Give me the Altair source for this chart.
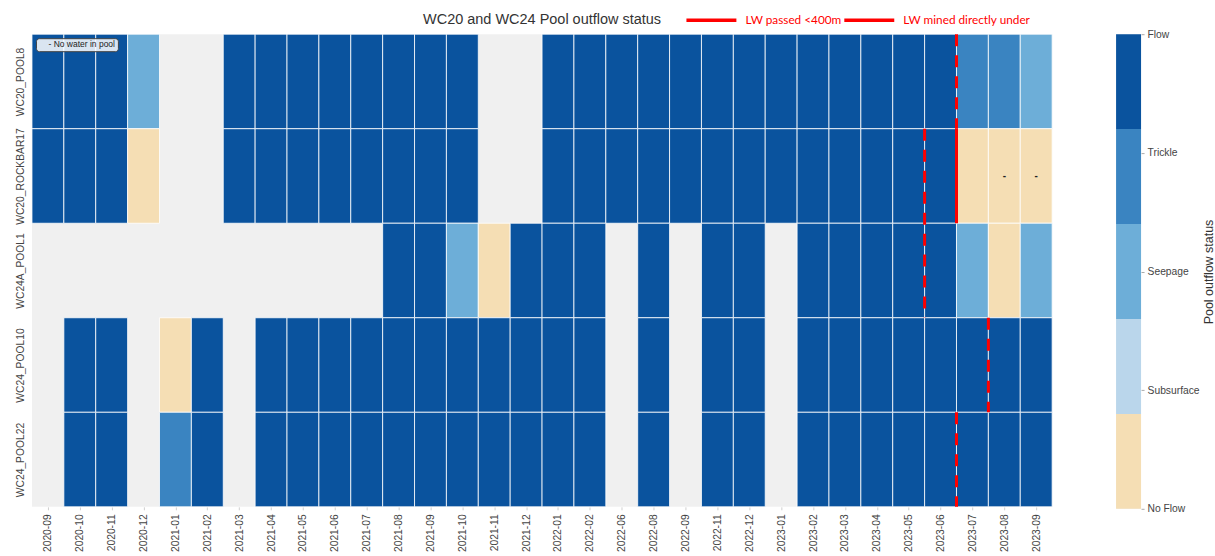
import json

import altair as alt
import pandas as pd

# Survey months shown on the x axis (gaps in 2022 are months that were not surveyed)
months = [
    "2020-09", "2020-10", "2020-11", "2020-12",
    "2021-01", "2021-02", "2021-03", "2021-04", "2021-05", "2021-06",
    "2021-07", "2021-08", "2021-09", "2021-10", "2021-11", "2021-12",
    "2022-01", "2022-02", "2022-06", "2022-08", "2022-09", "2022-11", "2022-12",
    "2023-01", "2023-02", "2023-03", "2023-04", "2023-05", "2023-06",
    "2023-07", "2023-08", "2023-09",
]

sites = ["WC20_POOL8", "WC20_ROCKBAR17", "WC24A_POOL1", "WC24_POOL10", "WC24_POOL22"]

# Outflow status codes: F Flow, T Trickle, S Seepage, U Subsurface, N No Flow, "" not observed
wc20_pool8 = ["F", "F", "F", "S", "", "", "F", "F", "F", "F", "F", "F", "F", "F", "", "",
              "F", "F", "F", "F", "F", "F", "F", "F", "F", "F", "F", "F", "F", "T", "T", "S"]
wc20_rockbar17 = ["F", "F", "F", "N", "", "", "F", "F", "F", "F", "F", "F", "F", "F", "", "",
                  "F", "F", "F", "F", "F", "F", "F", "F", "F", "F", "F", "F", "F", "N", "N", "N"]
wc24a_pool1 = ["", "", "", "", "", "", "", "", "", "", "", "F", "F", "S", "N", "F",
               "F", "F", "", "F", "", "F", "F", "", "F", "F", "F", "F", "F", "S", "N", "S"]
wc24_pool10 = ["", "F", "F", "", "N", "F", "", "F", "F", "F", "F", "F", "F", "F", "F", "F",
               "F", "F", "", "F", "", "F", "F", "", "F", "F", "F", "F", "F", "F", "F", "F"]
wc24_pool22 = ["", "F", "F", "", "T", "F", "", "F", "F", "F", "F", "F", "F", "F", "F", "F",
               "F", "F", "", "F", "", "F", "F", "", "F", "F", "F", "F", "F", "F", "F", "F"]
site_status = [wc20_pool8, wc20_rockbar17, wc24a_pool1, wc24_pool10, wc24_pool22]

status_names = ["Flow", "Trickle", "Seepage", "Subsurface", "No Flow"]
status_codes = ["F", "T", "S", "U", "N"]
status_colors = ["#0a539e", "#3a84c1", "#6daed8", "#bad6eb", "#f5deb4"]

# Pools that held no water on the survey date
nowater_site = ["WC20_ROCKBAR17", "WC20_ROCKBAR17"]
nowater_month = ["2023-08", "2023-09"]

# Longwall markers, drawn at the end of the given month across the listed pools
lw_first_site = ["WC20_POOL8", "WC20_ROCKBAR17", "WC20_ROCKBAR17", "WC24_POOL10", "WC24_POOL22"]
lw_last_site = ["WC20_POOL8", "WC24A_POOL1", "WC20_ROCKBAR17", "WC24_POOL10", "WC24_POOL22"]
lw_month = ["2023-06", "2023-05", "2023-06", "2023-07", "2023-06"]
lw_kind = ["LW passed <400m", "LW passed <400m", "LW mined directly under",
           "LW passed <400m", "LW passed <400m"]
lw_kinds = ["LW passed <400m", "LW mined directly under"]

FONT = "Liberation Sans"
TEXT = "#444444"
RED = "#ff0000"

code_name = dict(zip(status_codes, status_names))
cell_rows = []
for i, site in enumerate(sites):
    for j, month in enumerate(months):
        code = site_status[i][j]
        if code:
            cell_rows.append({"site": site, "month": month, "status": code_name[code],
                              "c0": j, "c1": j + 1, "r0": i, "r1": i + 1})
cells_df = pd.DataFrame(cell_rows)

lw_df = pd.DataFrame({
    "kind": lw_kind,
    "c0": [months.index(m) + 1 for m in lw_month],
    "r0": [sites.index(s) for s in lw_first_site],
    "r1": [sites.index(s) + 1 for s in lw_last_site],
})

nowater_df = pd.DataFrame({
    "note": ["- No water in pool"] * len(nowater_site),
    "c0": [months.index(m) + 0.5 for m in nowater_month],
    "r0": [sites.index(s) + 0.5 for s in nowater_site],
})

W, H = 1021, 473

x_axis = alt.Axis(
    values=[j + 0.5 for j in range(len(months))],
    labelExpr=f"{json.dumps(months)}[floor(datum.value)]",
    labelAngle=270, labelFont=FONT, labelFontSize=10.3, labelColor=TEXT,
    labelPadding=4, tickSize=3, tickColor="#d0d0d0", domain=False, grid=False, title=None,
)
y_axis = alt.Axis(
    values=[i + 0.5 for i in range(len(sites))],
    labelExpr=f"{json.dumps(sites)}[floor(datum.value)]",
    labelAngle=270, labelFont=FONT, labelFontSize=10.3, labelColor=TEXT,
    labelPadding=6, ticks=False, domain=False, grid=False, title=None,
)
x_scale = alt.Scale(domain=[0, len(months)], nice=False, zero=False)
y_scale = alt.Scale(domain=[0, len(sites)], reverse=True, nice=False, zero=False)
lw_scale = alt.Scale(domain=lw_kinds, range=[RED, RED])


def xenc(field):
    return alt.X(f"{field}:Q", scale=x_scale, axis=x_axis)


def yenc(field):
    return alt.Y(f"{field}:Q", scale=y_scale, axis=y_axis)


cells = alt.Chart(cells_df).mark_rect(stroke="white", strokeWidth=1, strokeOpacity=0.8).encode(
    x=xenc("c0"), x2="c1",
    y=yenc("r0"), y2="r1",
    fill=alt.Fill("status:N", scale=alt.Scale(domain=status_names, range=status_colors),
                  legend=None),
)

# Solid markers carry the legend; dashed markers share the same red scale
lw_solid = alt.Chart(lw_df).transform_filter(
    alt.datum.kind == "LW mined directly under"
).mark_rule(strokeWidth=3).encode(
    x=xenc("c0"),
    y=yenc("r0"), y2="r1",
    stroke=alt.Stroke(
        "kind:N", scale=lw_scale,
        legend=alt.Legend(
            orient="none", legendX=653, legendY=-21, direction="horizontal", title=None,
            symbolType="stroke", symbolSize=2500, symbolStrokeWidth=3.5, clipHeight=14,
            symbolDash=[1, 0],
            labelColor=RED, labelFont="Lato", labelFontSize=11.8, labelOffset=7,
            columnPadding=0, padding=0,
        ),
    ),
)

lw_dashed = alt.Chart(lw_df).transform_filter(
    alt.datum.kind == "LW passed <400m"
).mark_rule(strokeWidth=3, strokeDash=[12, 9]).encode(
    x=xenc("c0"),
    y=yenc("r0"), y2="r1",
    stroke=alt.Stroke("kind:N", scale=lw_scale, legend=None),
)

nowater = alt.Chart(nowater_df).mark_text(text="-", fontSize=10, fontWeight="bold",
                                          color="#222222").encode(
    x=xenc("c0"),
    y=yenc("r0"),
    opacity=alt.Opacity(
        "note:N",
        scale=alt.Scale(domain=["- No water in pool"], range=[1]),
        legend=alt.Legend(
            orient="top-left", offset=4, title=None, padding=2,
            fillColor="rgba(255,255,255,0.85)", strokeColor="#444444", cornerRadius=3,
            symbolSize=0, symbolOpacity=0, symbolStrokeWidth=0, labelOffset=2,
            labelFont=FONT, labelFontSize=8.5, labelColor="#222222",
        ),
    ),
)

heat = alt.layer(cells, lw_solid, lw_dashed, nowater).properties(
    width=W, height=H,
    title=alt.TitleParams("WC20 and WC24 Pool outflow status", font=FONT, fontSize=14.5,
                          fontWeight="normal", color="#333333", offset=5, frame="group"),
)

# Colour bar: five equal bands over 0..4 with one tick per status
n = len(status_names)
band = (n - 1) / n
bar_df = pd.DataFrame({
    "status": status_names,
    "b0": [(n - 1 - k) * band for k in range(n)],
    "b1": [(n - k) * band for k in range(n)],
})
bar_labels = list(reversed(status_names))

colorbar = alt.Chart(bar_df).mark_rect().encode(
    x=alt.value(0), x2=alt.value(25),
    y=alt.Y("b0:Q", scale=alt.Scale(domain=[0, n - 1], nice=False, zero=False),
            axis=alt.Axis(orient="right", values=list(range(n)),
                          labelExpr=f"{json.dumps(bar_labels)}[datum.value]",
                          labelFont=FONT, labelFontSize=10.3, labelColor=TEXT,
                          labelPadding=3, tickSize=3, tickColor="#aaaaaa",
                          domain=False, grid=False,
                          title="Pool outflow status", titleFont=FONT, titleFontSize=12.5,
                          titleFontWeight="normal", titleColor="#333333", titleAngle=270,
                          titlePadding=16)),
    y2="b1",
    fill=alt.Fill("status:N", scale=alt.Scale(domain=status_names, range=status_colors),
                  legend=None),
).properties(width=25, height=475)

chart = alt.hconcat(heat, colorbar, spacing=64, bounds="flush").properties(
    padding={"left": 15, "top": 12, "right": 0, "bottom": 0},
).configure_view(fill="#f0f0f0", stroke=None)

chart.save("out.html", embed_options={"renderer": "svg", "actions": False})
